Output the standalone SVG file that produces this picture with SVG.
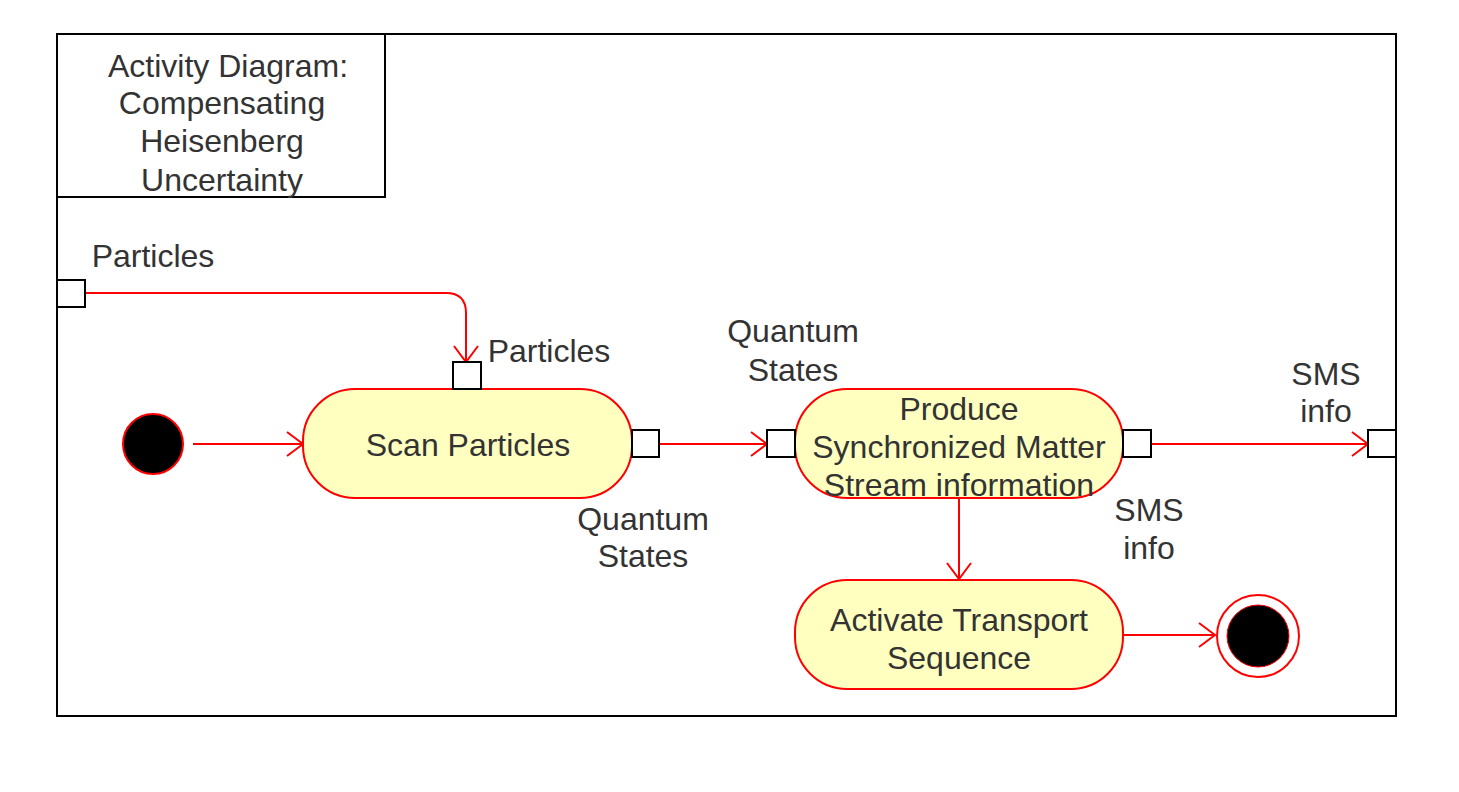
<svg xmlns="http://www.w3.org/2000/svg" width="1459" height="792" viewBox="0 0 1459 792">
<defs>
<marker id="open" markerUnits="userSpaceOnUse" markerWidth="34" markerHeight="34" refX="17" refY="13" orient="auto">
<path d="M1,1 L17,13 L1,25" fill="none" stroke="#FF0000" stroke-width="2"/>
</marker>
</defs>
<style>
text{font-family:"Liberation Sans",Arial,sans-serif;font-size:32px;fill:#333333;text-anchor:middle;dominant-baseline:central}
.act{fill:#FFFFC0;stroke:#FF0000;stroke-width:2}
.pin{fill:#FFFFFF;stroke:#000000;stroke-width:2}
.edge{fill:none;stroke:#FF0000;stroke-width:2;marker-end:url(#open)}
</style>
<rect width="1459" height="792" fill="#FFFFFF"/>
<g id="frame">
<rect x="57" y="34" width="1339" height="682" fill="#FFFFFF" stroke="#000000" stroke-width="2"/>
<rect x="57" y="34" width="328" height="163" fill="#FFFFFF" stroke="#000000" stroke-width="2"/>
<text x="228" y="66">Activity Diagram:</text>
<text x="222" y="103">Compensating</text>
<text x="222" y="141">Heisenberg</text>
<text x="222" y="180">Uncertainty</text>
</g>
<g id="connectors">
<path class="edge" d="M85,293 L446,293 Q466,293 466,313 L466,362"/>
<line class="edge" x1="193" y1="444" x2="303" y2="444"/>
<line class="edge" x1="659" y1="444" x2="767" y2="444"/>
<line class="edge" x1="1151" y1="444" x2="1368" y2="444"/>
<line class="edge" x1="959" y1="498" x2="959" y2="579"/>
<line class="edge" x1="1123" y1="635" x2="1215" y2="635"/>
</g>
<g id="framePinIn">
<rect class="pin" x="57" y="280" width="28" height="27"/>
<text x="153" y="256">Particles</text>
</g>
<g id="initial">
<circle cx="153" cy="444" r="30" fill="#000000" stroke="#FF0000" stroke-width="2"/>
</g>
<g id="scan">
<rect class="act" x="303" y="389" width="329" height="109" rx="52" ry="52"/>
<text x="468" y="445">Scan Particles</text>
<rect class="pin" x="453" y="362" width="28" height="27"/>
<text x="549" y="351">Particles</text>
<rect class="pin" x="632" y="430" width="27" height="27"/>
<text x="643" y="519">Quantum</text>
<text x="643" y="556">States</text>
</g>
<g id="produce">
<rect class="act" x="795" y="389" width="328" height="109" rx="52" ry="52"/>
<text x="959" y="409">Produce</text>
<text x="959" y="447">Synchronized Matter</text>
<text x="959" y="485">Stream information</text>
<rect class="pin" x="767" y="430" width="28" height="27"/>
<text x="793" y="331">Quantum</text>
<text x="793" y="370">States</text>
<rect class="pin" x="1123" y="430" width="28" height="27"/>
<text x="1149" y="510">SMS</text>
<text x="1149" y="548">info</text>
</g>
<g id="framePinOut">
<rect class="pin" x="1368" y="430" width="28" height="27"/>
<text x="1326" y="374">SMS</text>
<text x="1326" y="411">info</text>
</g>
<g id="activate">
<rect class="act" x="795" y="580" width="328" height="109" rx="52" ry="52"/>
<text x="959" y="620">Activate Transport</text>
<text x="959" y="658">Sequence</text>
</g>
<g id="final">
<circle cx="1258" cy="636" r="41" fill="#FFFFFF" stroke="#FF0000" stroke-width="2"/>
<circle cx="1258" cy="636" r="31" fill="#000000" stroke="#FF0000" stroke-width="1"/>
</g>
</svg>
